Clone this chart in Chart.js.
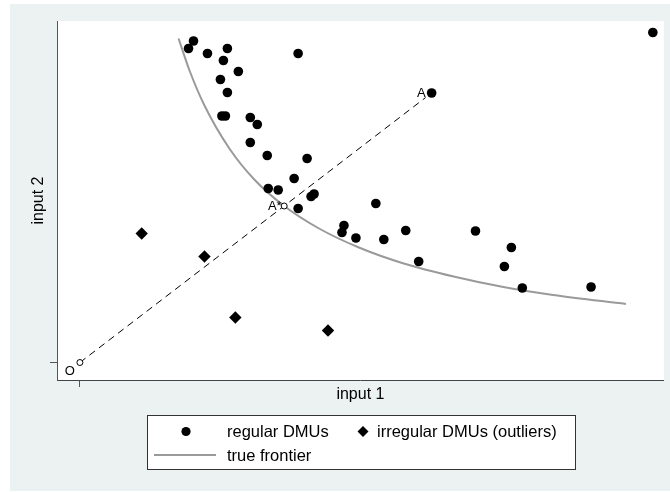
<!DOCTYPE html>
<html>
<head>
<meta charset="utf-8">
<script src="https://cdn.jsdelivr.net/npm/chart.js@4"></script>
<style>
  html, body { margin: 0; padding: 0; background: #fff; }
  #wrap { width: 670px; height: 492px; }
</style>
</head>
<body>
<div id="wrap"><canvas id="c" width="670" height="492"></canvas></div>
<script>
// regular DMUs (input 1, input 2)
var regularX = [1.14, 1.09, 1.28, 1.48, 2.19, 1.44, 1.59, 1.41, 1.48, 1.425, 1.46, 1.71,
                1.78, 1.71, 1.88, 2.28, 2.15, 1.89, 1.99, 2.35, 2.32, 2.19, 2.97, 2.65,
                2.63, 2.77, 3.05, 3.27, 3.40, 3.97, 4.33, 4.26, 4.44, 5.13, 5.75, 3.53];
var regularY = [3.215, 3.14, 3.09, 3.14, 3.09, 3.02, 2.91, 2.83, 2.70, 2.465, 2.465, 2.45,
                2.38, 2.20, 2.07, 2.04, 1.84, 1.74, 1.725, 1.685, 1.66, 1.54, 1.59, 1.37,
                1.30, 1.245, 1.23, 1.32, 1.01, 1.315, 1.15, 0.96, 0.745, 0.755, 3.30, 2.695];

// irregular DMUs (outliers)
var outlierX = [0.62, 1.25, 1.56, 2.49];
var outlierY = [1.29, 1.06, 0.45, 0.32];

// true frontier
var frontierX = [0.99, 1.10, 1.25, 1.50, 1.75, 2.05, 2.40, 2.80, 3.25, 3.75, 4.25, 4.75, 5.48];
var frontierY = [3.24, 2.92, 2.57, 2.14, 1.83, 1.565, 1.34, 1.15, 0.99, 0.86, 0.755, 0.675, 0.585];

// ray from the origin through A* towards A
var rayX = [0, 3.47];
var rayY = [0, 2.65];

// hollow reference markers and text labels
var markX = [0, 2.05];
var markY = [0, 1.565];
var labelText = ['O', 'A*', 'A'];
var labelX = [0, 2.05, 3.53];
var labelY = [0, 1.565, 2.695];

var FONT = 'Liberation Sans, Arial, Helvetica, sans-serif';

function pts(xs, ys) {
  return xs.map(function(x, i) { return { x: x, y: ys[i] }; });
}

var bgPlugin = {
  id: 'bg',
  beforeDraw: function(chart) {
    var ctx = chart.ctx;
    var a = chart.chartArea;
    ctx.save();
    ctx.fillStyle = '#ecf1f1';
    ctx.fillRect(10, 4, 660, 487);
    ctx.fillStyle = '#fff';
    ctx.fillRect(a.left, a.top, a.right - a.left, a.bottom - a.top);
    ctx.restore();
  }
};

// offsets of the point labels (text sits left / lower-left of its point)
var labelOffsets = { 'O': [-5, 8.5], 'A*': [-2.5, 0.5], 'A': [-6, 0] };

var labelPlugin = {
  id: 'pointLabels',
  afterDatasetsDraw: function(chart) {
    var ctx = chart.ctx;
    var sx = chart.scales.x, sy = chart.scales.y;
    ctx.save();
    ctx.fillStyle = '#000';
    ctx.font = '13px ' + FONT;
    ctx.textAlign = 'right';
    ctx.textBaseline = 'middle';
    labelText.forEach(function(t, i) {
      var off = labelOffsets[t];
      ctx.fillText(t, sx.getPixelForValue(labelX[i]) + off[0], sy.getPixelForValue(labelY[i]) + off[1]);
    });
    ctx.restore();
  }
};

var legendPlugin = {
  id: 'boxLegend',
  afterDraw: function(chart) {
    var ctx = chart.ctx;
    ctx.save();
    ctx.fillStyle = '#fff';
    ctx.fillRect(148, 416, 427, 53);
    ctx.strokeStyle = '#333';
    ctx.lineWidth = 1;
    ctx.strokeRect(147.5, 415.5, 428, 54);

    // row 1
    ctx.fillStyle = '#000';
    ctx.beginPath();
    ctx.arc(186, 431.5, 4.6, 0, Math.PI * 2);
    ctx.fill();
    ctx.beginPath();
    ctx.moveTo(363, 426);
    ctx.lineTo(368.5, 431.5);
    ctx.lineTo(363, 437);
    ctx.lineTo(357.5, 431.5);
    ctx.closePath();
    ctx.fill();

    ctx.font = '16.5px ' + FONT;
    ctx.textAlign = 'left';
    ctx.textBaseline = 'middle';
    ctx.fillText('regular DMUs', 227, 432);
    ctx.fillText('irregular DMUs (outliers)', 377, 432);

    // row 2
    ctx.strokeStyle = '#9a9a9a';
    ctx.lineWidth = 2;
    ctx.beginPath();
    ctx.moveTo(154, 455);
    ctx.lineTo(216, 455);
    ctx.stroke();
    ctx.fillText('true frontier', 227, 456);
    ctx.restore();
  }
};

function zeroTick(scale) { scale.ticks = [{ value: 0 }]; }

new Chart(document.getElementById('c'), {
  type: 'scatter',
  data: {
    datasets: [
      {
        label: 'A* / O',
        data: pts(markX, markY),
        pointStyle: 'circle',
        pointRadius: 3,
        pointBackgroundColor: '#fff',
        pointBorderColor: '#000',
        pointBorderWidth: 1,
        order: 0
      },
      {
        label: 'regular DMUs',
        data: pts(regularX, regularY),
        pointStyle: 'circle',
        pointRadius: 4.8,
        pointBackgroundColor: '#000',
        pointBorderWidth: 0,
        order: 1
      },
      {
        label: 'irregular DMUs (outliers)',
        data: pts(outlierX, outlierY),
        pointStyle: 'rectRot',
        pointRadius: 6.2,
        pointBackgroundColor: '#000',
        pointBorderWidth: 0,
        order: 1
      },
      {
        label: 'ray',
        data: pts(rayX, rayY),
        showLine: true,
        borderColor: '#000',
        borderWidth: 1,
        borderDash: [7, 5],
        pointRadius: 0,
        order: 2
      },
      {
        label: 'true frontier',
        data: pts(frontierX, frontierY),
        showLine: true,
        borderColor: '#9a9a9a',
        borderWidth: 2,
        cubicInterpolationMode: 'monotone',
        pointRadius: 0,
        order: 3
      }
    ]
  },
  options: {
    responsive: false,
    animation: false,
    devicePixelRatio: 1,
    layout: { padding: { top: 21, right: 1, bottom: 84, left: 0 } },
    plugins: {
      legend: { display: false },
      tooltip: { enabled: false }
    },
    scales: {
      x: {
        type: 'linear',
        min: -0.23,
        max: 5.86,
        afterBuildTicks: zeroTick,
        afterFit: function(s) { s.height = 28; },
        ticks: { display: false },
        grid: { drawOnChartArea: false, drawTicks: true, tickLength: 7, color: '#555' },
        border: { display: true, color: '#444', width: 1 },
        title: {
          display: true, text: 'input 1', color: '#000',
          font: { family: FONT, size: 16 },
          padding: { top: 0, bottom: 3.4 }
        }
      },
      y: {
        type: 'linear',
        min: -0.175,
        max: 3.415,
        afterBuildTicks: zeroTick,
        afterFit: function(s) { s.width = 57; },
        ticks: { display: false },
        grid: { drawOnChartArea: false, drawTicks: true, tickLength: 7, color: '#555' },
        border: { display: true, color: '#555', width: 1 },
        title: {
          display: true, text: 'input 2', color: '#000',
          font: { family: FONT, size: 16 },
          padding: { top: 29, bottom: 0 }
        }
      }
    }
  },
  plugins: [bgPlugin, labelPlugin, legendPlugin]
});
</script>
</body>
</html>
